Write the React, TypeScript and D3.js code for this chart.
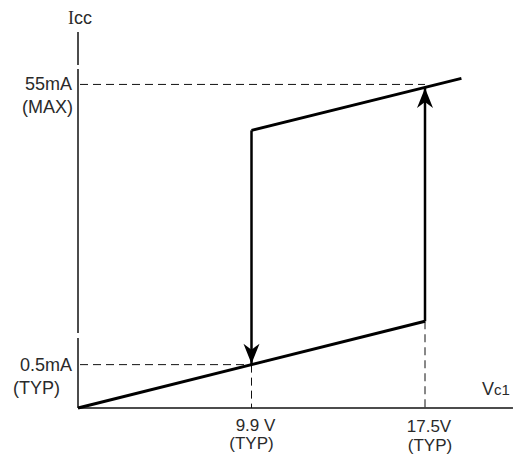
import React from "react";
import * as d3 from "d3";

// schematic units: x = 1 at 9.9V, x = 2 at 17.5V (axis is not to scale)
const lowerBranch: [number, number][] = [[0, 0], [2, 0.5]];
const upperBranch: [number, number][] = [[1, 1.6], [2.21, 1.9]];
const dropLine: [number, number][] = [[1, 1.6], [1, 0.25]]; // arrow down at 9.9V
const riseLine: [number, number][] = [[2, 0.5], [2, 1.85]]; // arrow up at 17.5V

const xTicks = [1, 2];
const xTickLabels = ["9.9 V", "17.5V"];
const yTicks = [1.865, 0.25];
const yTickLabels = ["55mA", "0.5mA"];
const yTickNotes = ["(MAX)", "(TYP)"];

const W = 521, H = 454;
const origin = { x: 78, y: 408 };
const unit = 173.5;

export default function App() {
  const x = d3.scaleLinear().domain([0, 1]).range([origin.x, origin.x + unit]);
  const y = d3.scaleLinear().domain([0, 1]).range([origin.y, origin.y - unit]);
  const line = d3.line<[number, number]>().x((d) => x(d[0])).y((d) => y(d[1]));

  const xEnd = x(2.507);
  const yTop = y(2.167);

  // notched arrow head, tip at (tx,ty), dir = -1 points up, +1 points down
  const arrow = (tx: number, ty: number, dir: number) => {
    const b = 20 * -dir, n = 14 * -dir;
    return `M${tx},${ty} L${tx - 8},${ty + b} L${tx},${ty + n} L${tx + 8},${ty + b} Z`;
  };

  const font = "'Liberation Sans', Arial, sans-serif";
  const txt = "#2a2a2a";

  return (
    <svg width={W} height={H} style={{ position: "absolute", left: 0, top: 0, background: "#fff" }}>
      {/* axes, with the small breaks seen on the y axis */}
      <g stroke="#111" strokeWidth={1.5} fill="none">
        <line x1={origin.x} y1={yTop} x2={origin.x} y2={65} />
        <line x1={origin.x} y1={69} x2={origin.x} y2={333} />
        <line x1={origin.x} y1={338} x2={origin.x} y2={origin.y} />
        <line x1={origin.x} y1={origin.y} x2={xEnd} y2={origin.y} />
      </g>

      {/* dashed guides */}
      <g stroke="#111" strokeWidth={1} strokeDasharray="8,5" fill="none">
        {yTicks.map((t, i) => (
          <line key={"h" + i} x1={origin.x + 2} y1={y(t)} x2={x(xTicks[1 - i])} y2={y(t)} />
        ))}
        {xTicks.map((t, i) => (
          <line key={"v" + i} x1={x(t)} y1={y(i === 0 ? 0.25 : 0.5)} x2={x(t)} y2={origin.y} />
        ))}
      </g>

      {/* hysteresis loop */}
      <g stroke="#000" strokeWidth={3} fill="none">
        <path d={line(lowerBranch) || ""} />
        <path d={line(upperBranch) || ""} />
        <path d={line(dropLine) || ""} strokeWidth={2.5} />
        <path d={line(riseLine) || ""} strokeWidth={2.5} />
      </g>
      <path d={arrow(x(1), y(0.25) - 1, 1)} fill="#000" />
      <path d={arrow(x(2), y(1.85) + 1, -1)} fill="#000" />

      {/* axis titles */}
      <text x={80} y={24} textAnchor="middle" fontSize={18} fill={txt}>
        <tspan fontFamily="'Liberation Serif', serif">I</tspan>
        <tspan fontFamily={font}>cc</tspan>
      </text>
      <text x={482} y={395} fontSize={18} fill={txt} fontFamily={font}>
        V<tspan fontSize={15}>c1</tspan>
      </text>

      {/* y labels */}
      {yTickLabels.map((l, i) => (
        <g key={l} fontFamily={font} fontSize={18} fill={txt}>
          <text x={72} y={y(yTicks[i]) + 6} textAnchor="end">{l}</text>
          <text x={i === 0 ? 22 : 13} y={y(yTicks[i]) + 29}>{yTickNotes[i]}</text>
        </g>
      ))}

      {/* x labels */}
      {xTickLabels.map((l, i) => (
        <g key={l} fontFamily={font} fontSize={17} fill={txt} textAnchor="middle">
          <text x={x(xTicks[i]) + 4} y={431 + i}>{l}</text>
          <text x={x(xTicks[i]) + (i === 0 ? 0 : 5)} y={449 + i * 2}>(TYP)</text>
        </g>
      ))}
    </svg>
  );
}
